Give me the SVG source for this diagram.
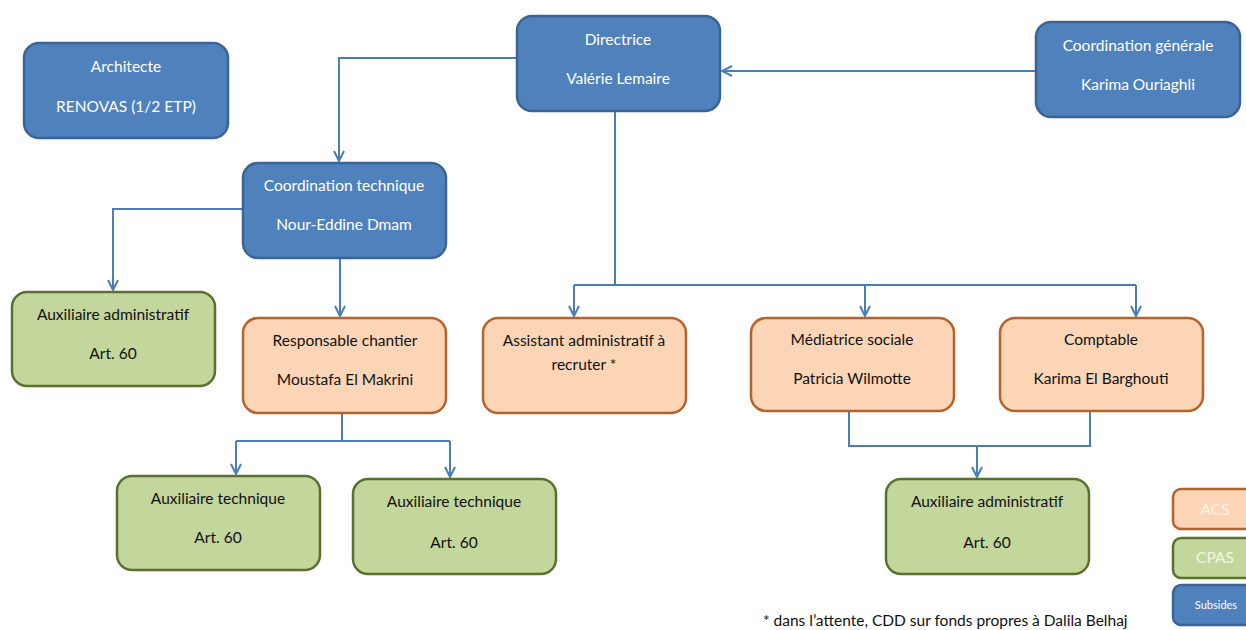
<svg xmlns="http://www.w3.org/2000/svg" width="1246" height="630" viewBox="0 0 1246 630">
<defs>
<style>
.b{fill:#4F81BD;stroke:#3A6496;stroke-width:2.5}
.o{fill:#FBD5B5;stroke:#B6622A;stroke-width:2.5}
.g{fill:#C3D69B;stroke:#5A7031;stroke-width:2.5}
text{font-family:Lato,"Open Sans","Liberation Sans",sans-serif;font-size:15.5px;text-anchor:middle}
.w{fill:#FFFFFF}
.k{fill:#111111}
.c{fill:none;stroke:#4A7EBB;stroke-width:2}
</style>
<marker id="ar" viewBox="0 0 12 12" refX="11" refY="6" markerWidth="12" markerHeight="12" markerUnits="userSpaceOnUse" orient="auto">
<path d="M1,1 L11,6 L1,11" fill="none" stroke="#4A7EBB" stroke-width="2"/>
</marker>
</defs>
<rect width="1246" height="630" fill="#FFFFFF"/>
<g id="connectors">
<path class="c" d="M1036,71 L722,71" marker-end="url(#ar)"/>
<path class="c" d="M517,58 L339,58 L339,161" marker-end="url(#ar)"/>
<path class="c" d="M615,111 L615,285"/>
<path class="c" d="M574,285 L1136,285"/>
<path class="c" d="M574,285 L574,316" marker-end="url(#ar)"/>
<path class="c" d="M865,285 L865,316" marker-end="url(#ar)"/>
<path class="c" d="M1136,285 L1136,316" marker-end="url(#ar)"/>
<path class="c" d="M243,209 L113,209 L113,290" marker-end="url(#ar)"/>
<path class="c" d="M340,258 L340,316" marker-end="url(#ar)"/>
<path class="c" d="M342,413 L342,441"/>
<path class="c" d="M236,441 L450,441"/>
<path class="c" d="M236,441 L236,474" marker-end="url(#ar)"/>
<path class="c" d="M450,441 L450,477" marker-end="url(#ar)"/>
<path class="c" d="M849,411 L849,446 L1090,446 L1090,411"/>
<path class="c" d="M977,446 L977,477" marker-end="url(#ar)"/>
</g>
<g id="architecte">
<rect class="b" x="24" y="43" width="204" height="95" rx="15"/>
<text class="w" x="126" y="72">Architecte</text>
<text class="w" x="126" y="112">RENOVAS (1/2 ETP)</text>
</g>
<g id="directrice">
<rect class="b" x="517" y="16" width="203" height="95" rx="15"/>
<text class="w" x="618" y="45">Directrice</text>
<text class="w" x="618" y="84">Valérie Lemaire</text>
</g>
<g id="coordination-generale">
<rect class="b" x="1036" y="22" width="204" height="95" rx="15"/>
<text class="w" x="1138" y="51">Coordination générale</text>
<text class="w" x="1138" y="90">Karima Ouriaghli</text>
</g>
<g id="coordination-technique">
<rect class="b" x="243" y="163" width="203" height="95" rx="15"/>
<text class="w" x="344" y="191">Coordination technique</text>
<text class="w" x="344" y="230">Nour-Eddine Dmam</text>
</g>
<g id="auxiliaire-administratif-1">
<rect class="g" x="12" y="292" width="203" height="94" rx="15"/>
<text class="k" x="113" y="320">Auxiliaire administratif</text>
<text class="k" x="113" y="359">Art. 60</text>
</g>
<g id="responsable-chantier">
<rect class="o" x="243" y="318" width="203" height="95" rx="15"/>
<text class="k" x="345" y="346">Responsable chantier</text>
<text class="k" x="345" y="385">Moustafa El Makrini</text>
</g>
<g id="assistant-administratif">
<rect class="o" x="483" y="318" width="203" height="95" rx="15"/>
<text class="k" x="584" y="346">Assistant administratif à</text>
<text class="k" x="584" y="370">recruter *</text>
</g>
<g id="mediatrice-sociale">
<rect class="o" x="751" y="318" width="203" height="93" rx="15"/>
<text class="k" x="852" y="345">Médiatrice sociale</text>
<text class="k" x="852" y="384">Patricia Wilmotte</text>
</g>
<g id="comptable">
<rect class="o" x="1000" y="318" width="203" height="93" rx="15"/>
<text class="k" x="1101" y="345">Comptable</text>
<text class="k" x="1101" y="384">Karima El Barghouti</text>
</g>
<g id="auxiliaire-technique-1">
<rect class="g" x="117" y="476" width="203" height="94" rx="15"/>
<text class="k" x="218" y="504">Auxiliaire technique</text>
<text class="k" x="218" y="543">Art. 60</text>
</g>
<g id="auxiliaire-technique-2">
<rect class="g" x="353" y="479" width="203" height="95" rx="15"/>
<text class="k" x="454" y="507">Auxiliaire technique</text>
<text class="k" x="454" y="548">Art. 60</text>
</g>
<g id="auxiliaire-administratif-2">
<rect class="g" x="886" y="479" width="203" height="95" rx="15"/>
<text class="k" x="987" y="507">Auxiliaire administratif</text>
<text class="k" x="987" y="548">Art. 60</text>
</g>
<g id="legend">
<rect class="o" x="1173" y="489" width="90" height="40" rx="8"/>
<text x="1215" y="515" fill="#FDF1E8">ACS</text>
<rect class="g" x="1173" y="538" width="90" height="40" rx="8"/>
<text x="1215" y="563" fill="#F2F7E6">CPAS</text>
<rect class="b" x="1173" y="585" width="90" height="40" rx="8"/>
<text x="1216" y="609" fill="#FFFFFF" style="font-size:11px">Subsides</text>
</g>
<g id="footnote">
<text x="763" y="626" fill="#111111" style="text-anchor:start">* dans l’attente, CDD sur fonds propres à Dalila Belhaj</text>
</g>
</svg>
